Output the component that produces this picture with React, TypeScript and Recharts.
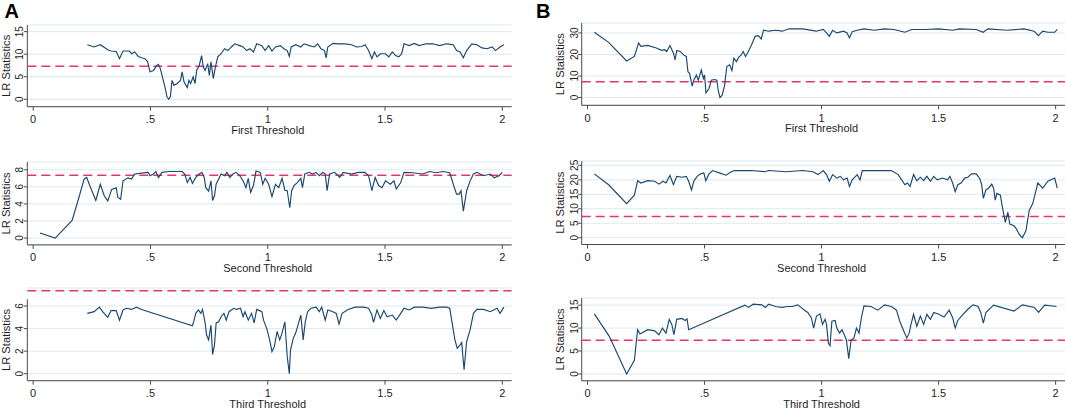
import React from 'react';
import { LineChart, Line, XAxis, YAxis, CartesianGrid, ReferenceLine } from 'recharts';

type Pt = [number, number];

const X_TICKS = [0, 0.5, 1, 1.5, 2];
const X_TICK_LABELS = ['0', '.5', '1', '1.5', '2'];
const X_DOMAIN: [number, number] = [-0.025, 2.04];
const CRITICAL_VALUE = 7.35;
const Y_LABEL = 'LR Statistics';
const TITLES = ['First Threshold', 'Second Threshold', 'Third Threshold'];

// A: first / second / third threshold
const A1_POINTS: Pt[] = [
  [0.231, 12.1], [0.26, 11.6], [0.286, 12.1], [0.318, 11.0], [0.332, 10.7], [0.354, 10.6], [0.368, 9.0], [0.383, 10.7],
  [0.41, 10.7], [0.42, 10.1], [0.433, 10.5], [0.448, 9.5], [0.462, 9.2], [0.477, 9.0], [0.488, 8.3], [0.498, 6.1],
  [0.513, 6.4], [0.527, 7.5], [0.534, 7.75], [0.542, 6.8], [0.556, 3.9], [0.563, 2.4], [0.57, 0.6], [0.578, 0],
  [0.585, 0.6], [0.592, 4.2], [0.6, 3.1], [0.614, 3.5], [0.628, 4.2], [0.635, 6.1], [0.643, 3.9], [0.657, 2.6],
  [0.664, 4.2], [0.671, 3.5], [0.682, 5.0], [0.69, 3.5], [0.697, 6.4], [0.708, 7.5], [0.718, 9.7], [0.725, 7.2],
  [0.733, 6.4], [0.744, 7.9], [0.751, 5.3], [0.758, 8.3], [0.768, 4.6], [0.777, 7.2], [0.787, 9.4], [0.801, 10.1],
  [0.816, 11.2], [0.83, 10.8], [0.845, 11.6], [0.859, 12.3], [0.881, 11.9], [0.895, 11.6], [0.91, 10.8], [0.924, 11.2],
  [0.939, 10.5], [0.953, 12.3], [0.975, 11.9], [0.989, 10.8], [1.004, 11.9], [1.018, 10.7], [1.033, 11.6], [1.054, 11.9],
  [1.069, 11.2], [1.083, 10.8], [1.092, 9.5], [1.1, 11.6], [1.12, 12.1], [1.141, 11.6], [1.155, 12.3], [1.177, 11.9],
  [1.199, 11.6], [1.213, 12.3], [1.227, 11.2], [1.242, 10.8], [1.249, 9.2], [1.256, 11.6], [1.278, 12.4], [1.3, 12.3],
  [1.328, 12.3], [1.357, 12.1], [1.379, 11.6], [1.401, 11.7], [1.415, 12.1], [1.43, 10.8], [1.444, 9.0], [1.455, 10.5],
  [1.466, 9.4], [1.48, 10.1], [1.502, 10.1], [1.516, 9.4], [1.531, 10.5], [1.545, 9.7], [1.559, 9.4], [1.571, 10.1],
  [1.581, 12.3], [1.603, 11.9], [1.625, 12.4], [1.646, 11.9], [1.675, 12.3], [1.704, 12.3], [1.733, 11.9], [1.762, 12.3],
  [1.791, 12.1], [1.805, 10.8], [1.82, 10.5], [1.834, 9.2], [1.848, 10.8], [1.87, 12.3], [1.892, 12.1], [1.913, 11.4],
  [1.935, 11.2], [1.957, 11.6], [1.971, 10.8], [1.99, 11.6], [2.007, 12.1],
];

const A2_POINTS: Pt[] = [
  [0.029, 0.6], [0.094, 0], [0.166, 2.06], [0.195, 4.75], [0.217, 6.9], [0.228, 7.1], [0.245, 5.9], [0.267, 4.4],
  [0.286, 6.3], [0.303, 4.95], [0.318, 4.35], [0.335, 5.7], [0.354, 5.9], [0.361, 4.75], [0.373, 4.55], [0.383, 6.7],
  [0.404, 7.05], [0.419, 6.9], [0.433, 7.5], [0.462, 7.6], [0.491, 7.7], [0.498, 7.3], [0.513, 7.5], [0.523, 7.8],
  [0.534, 7.1], [0.549, 7.7], [0.578, 7.8], [0.635, 7.8], [0.646, 7.5], [0.657, 6.5], [0.669, 7.1], [0.679, 6.4],
  [0.693, 7.1], [0.708, 7.5], [0.719, 7.7], [0.729, 7.1], [0.736, 5.9], [0.748, 5.5], [0.758, 6.7], [0.765, 4.4],
  [0.773, 4.95], [0.78, 6.3], [0.787, 6.7], [0.801, 7.5], [0.816, 7.3], [0.826, 7.7], [0.838, 7.1], [0.852, 7.5],
  [0.866, 7.7], [0.881, 7.3], [0.895, 6.7], [0.907, 5.9], [0.917, 7.0], [0.927, 5.35], [0.939, 6.15], [0.95, 7.85],
  [0.968, 7.7], [0.979, 6.3], [0.989, 7.0], [1.004, 6.3], [1.018, 4.85], [1.033, 6.3], [1.047, 5.9], [1.061, 7.0],
  [1.073, 5.6], [1.083, 5.55], [1.094, 3.55], [1.102, 5.55], [1.112, 6.15], [1.126, 6.5], [1.141, 7.0], [1.148, 5.9],
  [1.158, 7.5], [1.177, 7.7], [1.191, 7.5], [1.206, 7.7], [1.22, 7.3], [1.235, 7.7], [1.245, 7.5], [1.253, 5.55],
  [1.264, 7.5], [1.285, 7.7], [1.307, 7.1], [1.321, 7.7], [1.357, 7.5], [1.386, 7.7], [1.415, 7.7], [1.43, 7.3],
  [1.444, 5.55], [1.458, 7.1], [1.473, 6.15], [1.487, 5.9], [1.502, 6.7], [1.523, 6.3], [1.538, 6.7], [1.548, 5.75],
  [1.567, 6.5], [1.581, 7.7], [1.617, 7.65], [1.661, 7.5], [1.69, 7.8], [1.718, 7.65], [1.747, 7.8], [1.776, 7.65],
  [1.791, 6.3], [1.805, 5.15], [1.816, 5.15], [1.824, 5.55], [1.834, 3.15], [1.848, 5.55], [1.863, 6.7], [1.877, 7.5],
  [1.892, 7.7], [1.92, 7.3], [1.949, 7.5], [1.966, 7.05], [1.986, 7.3], [2.0, 7.7],
];

const A3_POINTS: Pt[] = [
  [0.231, 5.35], [0.26, 5.5], [0.282, 5.9], [0.296, 5.5], [0.318, 5.0], [0.332, 5.6], [0.354, 5.6], [0.368, 4.75],
  [0.383, 5.65], [0.397, 5.8], [0.419, 5.7], [0.44, 5.9], [0.462, 5.7], [0.679, 4.25], [0.686, 4.75], [0.693, 5.35],
  [0.704, 5.65], [0.715, 5.35], [0.722, 5.7], [0.733, 4.5], [0.739, 3.45], [0.748, 3.0], [0.758, 4.3], [0.765, 1.7],
  [0.773, 2.55], [0.78, 4.5], [0.791, 4.6], [0.801, 5.05], [0.813, 5.35], [0.823, 4.75], [0.835, 5.5], [0.845, 5.65],
  [0.855, 5.8], [0.866, 5.7], [0.884, 5.8], [0.895, 5.05], [0.903, 5.5], [0.917, 4.75], [0.931, 5.35], [0.942, 4.5],
  [0.953, 5.7], [0.975, 5.5], [0.982, 4.75], [0.996, 4.0], [1.008, 3.0], [1.018, 1.95], [1.028, 2.4], [1.04, 3.75],
  [1.051, 3.0], [1.061, 3.6], [1.073, 4.6], [1.083, 1.55], [1.092, 0.0], [1.097, 2.1], [1.109, 3.15], [1.119, 3.6],
  [1.129, 4.3], [1.141, 5.2], [1.151, 3.0], [1.16, 4.6], [1.17, 5.5], [1.184, 5.8], [1.206, 5.9], [1.22, 5.5],
  [1.23, 5.9], [1.245, 4.75], [1.256, 5.65], [1.278, 5.5], [1.292, 5.35], [1.304, 4.4], [1.317, 5.35], [1.343, 5.7],
  [1.372, 5.9], [1.408, 5.9], [1.43, 5.8], [1.444, 5.2], [1.451, 4.55], [1.466, 5.65], [1.48, 4.9], [1.495, 5.6],
  [1.509, 5.05], [1.531, 5.2], [1.548, 4.75], [1.567, 5.35], [1.581, 5.8], [1.603, 5.65], [1.625, 5.9], [1.661, 5.9],
  [1.697, 5.8], [1.733, 5.9], [1.762, 5.9], [1.776, 5.8], [1.786, 4.5], [1.798, 3.0], [1.808, 2.25], [1.82, 2.55],
  [1.827, 2.75], [1.837, 0.35], [1.848, 2.85], [1.863, 3.9], [1.877, 5.35], [1.892, 5.7], [1.92, 5.7], [1.949, 5.5],
  [1.978, 5.8], [1.99, 5.35], [2.007, 5.9],
];

// B: first / second / third threshold
const B1_POINTS: Pt[] = [
  [0.029, 30.3], [0.09, 25.6], [0.167, 17.0], [0.2, 19.1], [0.218, 25.3], [0.228, 23.75], [0.257, 24.2], [0.294, 23.0],
  [0.316, 21.9], [0.33, 22.2], [0.338, 21.4], [0.352, 24.2], [0.367, 20.6], [0.374, 17.5], [0.381, 21.9], [0.396, 21.4],
  [0.41, 19.8], [0.422, 19.1], [0.429, 12.0], [0.436, 11.25], [0.447, 5.3], [0.454, 8.1], [0.465, 10.5], [0.473, 8.1],
  [0.486, 12.8], [0.495, 8.9], [0.5, 10.5], [0.506, 2.2], [0.519, 4.2], [0.529, 8.1], [0.541, 8.4], [0.553, 8.1],
  [0.558, 3.4], [0.566, 0], [0.575, 1.1], [0.585, 5.3], [0.595, 14.4], [0.607, 15.2], [0.617, 12.5], [0.625, 18.3],
  [0.636, 16.7], [0.646, 18.75], [0.657, 19.8], [0.665, 21.4], [0.675, 19.1], [0.687, 21.4], [0.701, 24.5], [0.716, 28.4],
  [0.73, 28.75], [0.742, 27.2], [0.752, 31.25], [0.774, 30.8], [0.803, 31.25], [0.832, 30.8], [0.861, 31.9], [0.919, 31.9],
  [0.977, 30.8], [1.007, 31.6], [1.021, 30.0], [1.033, 28.4], [1.047, 31.25], [1.065, 30.0], [1.094, 30.8], [1.109, 30.0],
  [1.119, 27.7], [1.131, 30.6], [1.152, 31.25], [1.181, 31.9], [1.225, 31.25], [1.269, 31.9], [1.309, 31.6], [1.356, 30.3],
  [1.385, 31.6], [1.443, 31.6], [1.5, 31.9], [1.56, 31.25], [1.589, 31.9], [1.661, 31.6], [1.69, 30.3], [1.711, 31.9],
  [1.792, 31.25], [1.865, 31.9], [1.908, 30.8], [1.926, 28.75], [1.945, 30.8], [1.967, 30.3], [1.996, 30.3], [2.007, 31.6],
];

const B2_POINTS: Pt[] = [
  [0.029, 22.05], [0.09, 18.3], [0.167, 11.8], [0.2, 14.7], [0.214, 19.7], [0.228, 18.9], [0.257, 19.7], [0.287, 19.5],
  [0.305, 18.5], [0.323, 19.5], [0.335, 18.9], [0.352, 21.5], [0.367, 18.3], [0.381, 21.2], [0.403, 20.9], [0.422, 21.2],
  [0.432, 19.5], [0.444, 16.5], [0.454, 19.5], [0.468, 21.2], [0.483, 22.05], [0.497, 22.4], [0.505, 19.7], [0.519, 22.05],
  [0.534, 23.2], [0.563, 22.4], [0.592, 21.6], [0.614, 22.8], [0.628, 23.2], [0.701, 23.2], [0.759, 22.8], [0.774, 23.2],
  [0.847, 22.8], [0.919, 23.2], [0.963, 22.8], [0.985, 21.8], [1.007, 23.2], [1.021, 21.8], [1.033, 19.5], [1.047, 21.8],
  [1.065, 20.6], [1.08, 21.2], [1.094, 20.0], [1.109, 20.6], [1.119, 17.7], [1.131, 20.0], [1.152, 21.8], [1.164, 20.0],
  [1.174, 23.2], [1.211, 23.2], [1.298, 23.2], [1.327, 21.8], [1.342, 20.0], [1.356, 18.3], [1.367, 18.9], [1.378, 17.7],
  [1.393, 21.8], [1.407, 19.7], [1.422, 20.9], [1.436, 19.7], [1.45, 21.2], [1.465, 19.5], [1.479, 21.2], [1.494, 20.0],
  [1.516, 20.6], [1.538, 20.0], [1.548, 21.2], [1.56, 18.9], [1.571, 15.9], [1.582, 18.3], [1.596, 18.9], [1.611, 20.6],
  [1.625, 20.9], [1.64, 22.05], [1.661, 22.05], [1.676, 20.4], [1.684, 18.3], [1.691, 13.6], [1.702, 16.5], [1.713, 17.1],
  [1.727, 18.5], [1.735, 17.1], [1.742, 13.0], [1.749, 15.3], [1.764, 14.7], [1.771, 11.2], [1.785, 5.3], [1.796, 8.8],
  [1.804, 4.7], [1.822, 4.1], [1.833, 2.95], [1.844, 1.2], [1.858, 0], [1.873, 2.4], [1.887, 9.4], [1.902, 11.8],
  [1.924, 18.9], [1.945, 17.1], [1.967, 19.5], [1.996, 20.6], [2.007, 17.1],
];

const B3_POINTS: Pt[] = [
  [0.029, 13.1], [0.093, 8.2], [0.167, 0], [0.2, 3.0], [0.214, 9.65], [0.224, 8.7], [0.257, 9.65], [0.287, 9.4],
  [0.305, 8.55], [0.32, 10.0], [0.335, 8.9], [0.349, 11.9], [0.36, 10.8], [0.369, 8.55], [0.381, 11.9], [0.403, 12.1],
  [0.417, 11.65], [0.425, 12.0], [0.432, 9.65], [0.672, 15.0], [0.687, 14.5], [0.708, 15.2], [0.745, 15.05], [0.76, 14.5],
  [0.774, 15.2], [0.803, 14.7], [0.832, 14.5], [0.854, 14.7], [0.876, 14.7], [0.898, 15.05], [0.912, 14.5], [0.927, 13.9],
  [0.941, 13.4], [0.956, 12.25], [0.966, 10.0], [0.978, 12.6], [0.993, 13.1], [1.004, 10.8], [1.015, 11.9], [1.021, 10.8],
  [1.029, 6.7], [1.036, 6.2], [1.044, 11.5], [1.058, 11.65], [1.065, 10.0], [1.077, 8.9], [1.087, 9.65], [1.097, 8.55],
  [1.106, 7.4], [1.116, 3.35], [1.126, 7.4], [1.138, 7.8], [1.149, 10.0], [1.16, 8.9], [1.17, 12.25], [1.181, 14.85],
  [1.211, 14.7], [1.24, 13.9], [1.269, 15.05], [1.298, 14.7], [1.32, 13.9], [1.334, 11.5], [1.349, 9.65], [1.364, 7.8],
  [1.374, 8.9], [1.382, 10.8], [1.393, 13.0], [1.407, 10.4], [1.422, 12.6], [1.436, 10.8], [1.45, 13.0], [1.465, 11.9],
  [1.479, 13.4], [1.501, 13.0], [1.523, 12.4], [1.545, 13.9], [1.56, 12.25], [1.571, 10.0], [1.582, 11.65], [1.604, 13.0],
  [1.625, 14.1], [1.647, 15.05], [1.669, 14.7], [1.68, 13.4], [1.691, 11.1], [1.702, 13.4], [1.735, 15.0], [1.822, 13.7],
  [1.858, 15.05], [1.909, 14.5], [1.927, 13.4], [1.953, 15.0], [2.004, 14.7],
];

const A1_Y_TICKS = [0, 5, 10, 15];
const A2_Y_TICKS = [0, 2, 4, 6, 8];
const A3_Y_TICKS = [0, 2, 4, 6];
const B1_Y_TICKS = [0, 10, 20, 30];
const B2_Y_TICKS = [0, 5, 10, 15, 20, 25];
const B3_Y_TICKS = [0, 5, 10, 15];

const FONT = "'Liberation Sans', Arial, Helvetica, sans-serif";
const TEXT_COLOR = '#1e1e1e';
const AXIS_COLOR = '#4a4a4a';
const LINE_COLOR = '#1a476f';
const DASH_COLOR = '#e2366d';
const GRID_COLOR = '#dde9ee';
const MARGIN_TOP = 5;
const X_AXIS_HEIGHT = 32;

type PanelProps = {
  points: Pt[];
  yTicks: number[];
  yDomain: [number, number];
  axisTop?: number;
  title: string;
  left: number;
  top: number;
  width: number;
  yAxisWidth: number;
  plotHeight: number;
  marginRight: number;
};

const Panel = ({
  points, yTicks, yDomain, axisTop, title, left, top, width, yAxisWidth, plotHeight, marginRight,
}: PanelProps) => {
  const data = points.map(([x, y]) => ({ x, y }));
  const height = MARGIN_TOP + plotHeight + X_AXIS_HEIGHT;
  const plotWidth = width - yAxisWidth - marginRight;
  const aTop = axisTop ?? yDomain[1];
  const axisTopPx = MARGIN_TOP + (plotHeight * (yDomain[1] - aTop)) / (yDomain[1] - yDomain[0]);
  const plotBottom = MARGIN_TOP + plotHeight;

  const yTick = ({ x, y, payload }: any) => (
    <text
      x={x}
      y={y}
      transform={`rotate(-90 ${x} ${y})`}
      textAnchor="middle"
      fontSize={10}
      fontFamily={FONT}
      fill={TEXT_COLOR}
    >
      {payload.value}
    </text>
  );

  const yTitle = () => {
    const bx = yAxisWidth - 17.5;
    const cy = (axisTopPx + plotBottom) / 2;
    return (
      <text x={bx} y={cy} transform={`rotate(-90 ${bx} ${cy})`} textAnchor="middle" fontSize={11.2} fontFamily={FONT} fill={TEXT_COLOR}>
        {Y_LABEL}
      </text>
    );
  };

  const xTitle = () => {
    const cx = yAxisWidth + (plotWidth * (1 - X_DOMAIN[0])) / (X_DOMAIN[1] - X_DOMAIN[0]);
    return (
      <text x={cx} y={plotBottom + 27} textAnchor="middle" fontSize={11} fontFamily={FONT} fill={TEXT_COLOR}>
        {title}
      </text>
    );
  };

  return (
    <div style={{ position: 'absolute', left, top }}>
      <LineChart width={width} height={height} data={data} margin={{ top: MARGIN_TOP, right: marginRight, left: 0, bottom: 0 }}>
        <CartesianGrid vertical={false} stroke={GRID_COLOR} strokeWidth={1} />
        <XAxis
          type="number"
          dataKey="x"
          domain={X_DOMAIN}
          ticks={X_TICKS}
          interval={0}
          allowDataOverflow
          height={X_AXIS_HEIGHT}
          tickFormatter={(v: number) => X_TICK_LABELS[X_TICKS.indexOf(v)] ?? String(v)}
          tick={{ fontSize: 11, fill: TEXT_COLOR, fontFamily: FONT }}
          tickSize={4}
          tickMargin={4.5}
          stroke={AXIS_COLOR}
          tickLine={{ stroke: AXIS_COLOR }}
          axisLine={{ stroke: AXIS_COLOR }}
          label={xTitle}
        />
        <YAxis
          type="number"
          domain={yDomain}
          ticks={yTicks}
          interval={0}
          allowDataOverflow
          width={yAxisWidth}
          tick={yTick}
          tickSize={3.5}
          tickMargin={0.5}
          tickLine={{ stroke: AXIS_COLOR }}
          axisLine={false}
          label={yTitle}
        />
        <ReferenceLine
          segment={[{ x: X_DOMAIN[0], y: yDomain[0] }, { x: X_DOMAIN[0], y: aTop }]}
          stroke={AXIS_COLOR}
          ifOverflow="visible"
        />
        <ReferenceLine y={CRITICAL_VALUE} stroke={DASH_COLOR} strokeWidth={1.5} strokeDasharray="9 5" />
        <Line
          type="linear"
          dataKey="y"
          stroke={LINE_COLOR}
          strokeWidth={1.15}
          dot={false}
          activeDot={false}
          isAnimationActive={false}
        />
      </LineChart>
    </div>
  );
};

const App = () => {
  const colA = { left: 0, width: 520, yAxisWidth: 27.3, marginRight: 8.3 };
  const colB = { left: 530, width: 535, yAxisWidth: 51.7, marginRight: 0 };
  return (
    <div
      style={{
        position: 'absolute',
        left: 0,
        top: 0,
        width: 1065,
        height: 409,
        overflow: 'hidden',
        background: '#ffffff',
        fontFamily: FONT,
      }}
    >
      <svg width={1065} height={30} style={{ position: 'absolute', left: 0, top: 0 }}>
        <text x={4.5} y={18} fontSize={20} fontWeight={700} fontFamily={FONT} fill="#000">A</text>
        <text x={536} y={18} fontSize={20} fontWeight={700} fontFamily={FONT} fill="#000">B</text>
      </svg>
      <Panel {...colA} points={A1_POINTS} yTicks={A1_Y_TICKS} yDomain={[-1.64, 16.47]} title={TITLES[0]} top={20} plotHeight={81.7} />
      <Panel {...colA} points={A2_POINTS} yTicks={A2_Y_TICKS} yDomain={[-0.8, 8.91]} title={TITLES[1]} top={157} plotHeight={82.9} />
      <Panel {...colA} points={A3_POINTS} yTicks={A3_Y_TICKS} yDomain={[-0.62, 7.6]} axisTop={6.6} title={TITLES[2]} top={283} plotHeight={92.7} />
      <Panel {...colB} points={B1_POINTS} yTicks={B1_Y_TICKS} yDomain={[-3.58, 34.6]} title={TITLES[0]} top={17.7} plotHeight={82.3} />
      <Panel {...colB} points={B2_POINTS} yTicks={B2_Y_TICKS} yDomain={[-2.35, 26.5]} title={TITLES[1]} top={155.5} plotHeight={83.5} />
      <Panel {...colB} points={B3_POINTS} yTicks={B3_Y_TICKS} yDomain={[-1.48, 16.55]} title={TITLES[2]} top={293} plotHeight={82.8} />
    </div>
  );
};

export default App;
